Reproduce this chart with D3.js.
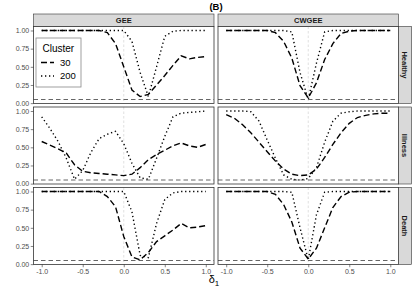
<!DOCTYPE html>
<head>
  <meta charset="utf-8">
  <script src="https://d3js.org/d3.v7.min.js"></script>
  <style>
    body { margin:0; background:white; }
    svg { background: white; font-family: "Liberation Sans", Arial, sans-serif; }
    .tick text { fill: #4d4d4d; font-size: 7px; }
    .tick line { stroke: #333; stroke-width: 0.6; }
  </style>
</head>

<body>

  <script>
    // delta_1 grid
    var deltas = [-1.0, -0.9, -0.8, -0.7, -0.6, -0.5, -0.4, -0.3, -0.2, -0.1, 0.0,
                  0.1, 0.2, 0.3, 0.4, 0.5, 0.6, 0.7, 0.8, 0.9, 1.0];

    var methods = ["GEE", "CWGEE"];
    var outcomes = ["Healthy", "Illness", "Death"];
    var clusters = ["30", "200"];

    var xTicks = [-1.0, -0.5, 0.0, 0.5, 1.0];
    var yTicks = [0, 0.25, 0.5, 0.75, 1];
    var alphaLevel = 0.05;

    // GEE
    var geeHealthy30  = [1, 1, 1, 1, 1, 1, 1, 1, 0.97, 0.82, 0.50, 0.18, 0.09, 0.12, 0.25, 0.38, 0.52, 0.65, 0.61, 0.63, 0.64];
    var geeHealthy200 = [1, 1, 1, 1, 1, 1, 1, 1, 1, 1, 1, 0.85, 0.42, 0.09, 0.50, 0.92, 0.99, 1, 1, 1, 1];
    var geeIllness30  = [0.58, 0.53, 0.48, 0.42, 0.26, 0.17, 0.15, 0.14, 0.13, 0.12, 0.11, 0.13, 0.22, 0.33, 0.40, 0.46, 0.52, 0.56, 0.52, 0.50, 0.54];
    var geeIllness200 = [0.92, 0.76, 0.58, 0.35, 0.06, 0.18, 0.43, 0.62, 0.68, 0.72, 0.55, 0.28, 0.08, 0.06, 0.35, 0.65, 0.92, 0.97, 0.98, 0.99, 1];
    var geeDeath30    = [1, 1, 1, 1, 1, 1, 1, 1, 0.93, 0.79, 0.38, 0.10, 0.06, 0.16, 0.31, 0.39, 0.47, 0.56, 0.50, 0.51, 0.53];
    var geeDeath200   = [1, 1, 1, 1, 1, 1, 1, 1, 1, 1, 1, 0.72, 0.12, 0.09, 0.56, 0.89, 0.98, 1, 1, 1, 1];

    // CWGEE
    var cwHealthy30   = [1, 1, 1, 1, 1, 1, 0.97, 0.85, 0.62, 0.24, 0.07, 0.28, 0.60, 0.82, 0.96, 0.99, 1, 1, 1, 1, 1];
    var cwHealthy200  = [1, 1, 1, 1, 1, 1, 1, 1, 0.98, 0.42, 0.05, 0.55, 0.98, 1, 1, 1, 1, 1, 1, 1, 1];
    var cwIllness30   = [0.95, 0.90, 0.81, 0.70, 0.57, 0.44, 0.31, 0.20, 0.13, 0.11, 0.12, 0.20, 0.36, 0.54, 0.70, 0.83, 0.91, 0.94, 0.96, 0.97, 0.97];
    var cwIllness200  = [1, 1, 1, 0.99, 0.86, 0.60, 0.35, 0.12, 0.06, 0.05, 0.07, 0.22, 0.57, 0.86, 0.97, 0.99, 1, 1, 1, 1, 1];
    var cwDeath30     = [1, 1, 1, 1, 1, 1, 0.96, 0.82, 0.58, 0.22, 0.07, 0.22, 0.50, 0.78, 0.93, 0.99, 1, 1, 1, 1, 1];
    var cwDeath200    = [1, 1, 1, 1, 1, 1, 1, 1, 0.99, 0.50, 0.06, 0.68, 0.99, 1, 1, 1, 1, 1, 1, 1, 1];

    var series = {
      GEE:   { Healthy: [geeHealthy30, geeHealthy200], Illness: [geeIllness30, geeIllness200], Death: [geeDeath30, geeDeath200] },
      CWGEE: { Healthy: [cwHealthy30, cwHealthy200],   Illness: [cwIllness30, cwIllness200],   Death: [cwDeath30, cwDeath200] }
    };

    var width = 415, height = 292;
    var left = 33.5, panelW = 180.5, gapX = 4;
    var stripTop = 14, stripH = 12.5, stripW = 13;
    var panelTop = stripTop + stripH, panelH = 77, gapY = 3.5;

    var dashes = { "30": "6,3", "200": "1.3,2.7" };

    var svg = d3.select("body").append("svg")
      .attr("width", width)
      .attr("height", height);

    var x = d3.scaleLinear().domain([-1.1, 1.1]).range([0, panelW]);
    var y = d3.scaleLinear().domain([-0.005, 1.055]).range([panelH, 0]);

    var line = d3.line()
      .x(function(d, i){ return x(deltas[i]); })
      .y(function(d){ return y(d); });

    methods.forEach(function(m, c){
      var px = left + c * (panelW + gapX);

      // top strip
      svg.append("rect")
        .attr("x", px).attr("y", stripTop)
        .attr("width", panelW).attr("height", stripH)
        .attr("fill", "#d9d9d9").attr("stroke", "#333").attr("stroke-width", 0.6);
      svg.append("text")
        .attr("x", px + panelW / 2).attr("y", stripTop + stripH / 2 + 2.6)
        .attr("text-anchor", "middle")
        .attr("font-size", 7.5).attr("font-weight", "bold").attr("fill", "#1a1a1a")
        .text(m);

      outcomes.forEach(function(o, r){
        var py = panelTop + r * (panelH + gapY);
        var g = svg.append("g").attr("transform", "translate(" + px + "," + py + ")");

        g.append("rect").attr("width", panelW).attr("height", panelH).attr("fill", "white");

        // reference lines
        g.append("line")
          .attr("x1", x(0)).attr("x2", x(0)).attr("y1", 0).attr("y2", panelH)
          .attr("stroke", "#cccccc").attr("stroke-width", 0.6).attr("stroke-dasharray", "2.5,2");
        g.append("line")
          .attr("x1", 0).attr("x2", panelW).attr("y1", y(alphaLevel)).attr("y2", y(alphaLevel))
          .attr("stroke", "#666").attr("stroke-width", 1).attr("stroke-dasharray", "4.5,3");

        series[m][o].forEach(function(vals, k){
          g.append("path")
            .attr("d", line(vals))
            .attr("fill", "none")
            .attr("stroke", "black")
            .attr("stroke-width", 1.4)
            .attr("stroke-dasharray", dashes[clusters[k]]);
        });

        g.append("rect").attr("width", panelW).attr("height", panelH)
          .attr("fill", "none").attr("stroke", "#333").attr("stroke-width", 0.8);

        if (c == 0) {
          var ya = g.append("g")
            .call(d3.axisLeft(y).tickValues(yTicks).tickSize(2.75).tickPadding(1.5)
              .tickFormat(function(d){ return d.toFixed(2); }));
          ya.select(".domain").remove();
        }
        if (r == outcomes.length - 1) {
          var xa = g.append("g")
            .attr("transform", "translate(0," + panelH + ")")
            .call(d3.axisBottom(x).tickValues(xTicks).tickSize(2.75).tickPadding(1.5)
              .tickFormat(function(d){ return d.toFixed(1); }));
          xa.select(".domain").remove();
        }

        // right strips
        if (c == methods.length - 1) {
          g.append("rect")
            .attr("x", panelW).attr("y", 0)
            .attr("width", stripW).attr("height", panelH)
            .attr("fill", "#d9d9d9").attr("stroke", "#333").attr("stroke-width", 0.6);
          g.append("text")
            .attr("transform", "translate(" + (panelW + stripW / 2 - 2.6) + "," + (panelH / 2) + ") rotate(90)")
            .attr("text-anchor", "middle")
            .attr("font-size", 7.5).attr("font-weight", "bold").attr("fill", "#1a1a1a")
            .text(o);
        }

        // legend in first panel
        if (c == 0 && r == 0) {
          var lg = g.append("g").attr("transform", "translate(" + 2.5 + "," + 11.5 + ")");
          lg.append("rect").attr("width", 45).attr("height", 49)
            .attr("fill", "white").attr("stroke", "#888").attr("stroke-width", 0.8);
          lg.append("text").attr("x", 6.5).attr("y", 13.5)
            .attr("font-size", 10).attr("fill", "black").text("Cluster");
          clusters.forEach(function(cl, k){
            var ky = 24.5 + k * 13.5;
            lg.append("line")
              .attr("x1", 5).attr("x2", 18).attr("y1", ky).attr("y2", ky)
              .attr("stroke", "black").attr("stroke-width", 1.4)
              .attr("stroke-dasharray", dashes[cl]);
            lg.append("text").attr("x", 24).attr("y", ky + 3.4)
              .attr("font-size", 9.5).attr("fill", "black").text(cl);
          });
        }
      });
    });

    // title
    svg.append("text")
      .attr("x", left + (2 * panelW + gapX) / 2).attr("y", 10)
      .attr("text-anchor", "middle")
      .attr("font-size", 9.5).attr("font-weight", "bold")
      .text("(B)");

    // x title
    var xt = svg.append("text")
      .attr("x", left + (2 * panelW + gapX) / 2 - 2).attr("y", 283)
      .attr("text-anchor", "middle")
      .attr("font-size", 11).attr("fill", "black");
    xt.append("tspan").text("δ");
    xt.append("tspan").attr("font-size", 8).attr("dy", 3).text("1");
  </script>
</body>
